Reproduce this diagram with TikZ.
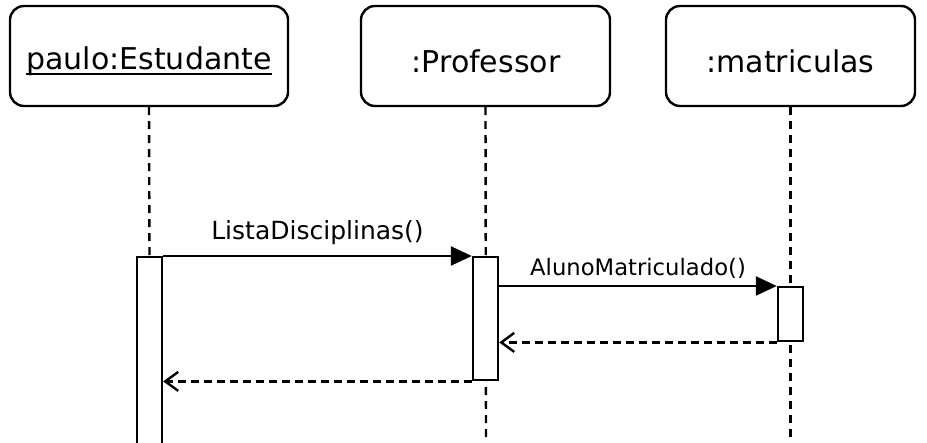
\documentclass[tikz,border=0pt]{standalone}
\usepackage{fontspec}
\setmainfont{DejaVu Sans}
\usetikzlibrary{arrows.meta}
\begin{document}
\begin{tikzpicture}[x=1pt,y=-1pt,
  obj/.style={draw, line width=2.4pt, rounded corners=14pt, minimum width=278pt, minimum height=100pt, inner sep=0pt, fill=white},
  objtext/.style={inner sep=0pt, font=\fontsize{30}{34}\selectfont},
  act/.style={draw, line width=2.4pt, fill=white, minimum width=25pt, inner sep=0pt},
  life/.style={line width=2.4pt, dash pattern=on 8pt off 6pt},
  msg/.style={line width=2.4pt, -{Triangle[length=21pt,width=19pt]}},
  ret/.style={line width=2.4pt, dash pattern=on 8pt off 5pt, -{Straight Barb[length=13pt,width=19pt,line width=2.4pt]}},
  lbl/.style={inner sep=0pt}
]
\useasboundingbox (0,0) rectangle (927,443);
\node[obj] (e) at (149,56) {};
\node[objtext] (et) at (149,61) {paulo:Estudante};
\draw[line width=2pt] ([yshift=-5pt]et.base west) -- ([yshift=-5pt]et.base east);
\node[obj, minimum width=249pt] (p) at (485.5,56) {};
\node[objtext] (pt) at (486,61) {:Professor};
\node[obj, minimum width=249pt] (m) at (790.5,56) {};
\node[objtext] (mt) at (790.5,61) {:matriculas};
\coordinate (pb) at (486,443);
\coordinate (mb) at (790.5,443);
\coordinate (ea) at (149.5,256);
\draw[life] (e.south) -- (ea);
\draw[life] (p.south) -- (pb);
\draw[life] (m.south) -- (mb);
\node[act, minimum height=210pt, anchor=north] (ae) at (149.5,256) {};
\node[act, minimum height=123pt, anchor=north] (ap) at (485.5,256) {};
\node[act, minimum height=54pt, anchor=north] (am) at (790.5,286) {};
\draw[msg] (ae.north east) -- (ap.north west) node[lbl, font=\fontsize{25}{29}\selectfont, midway, above=10pt] {ListaDisciplinas()};
\draw[msg] (ap.east |- am.north) -- (am.north west) node[lbl, font=\fontsize{22.7}{26}\selectfont, midway, above=6pt] {AlunoMatriculado()};
\draw[ret] (am.south west) -- (ap.east |- am.south);
\draw[ret] (ap.south west) -- (ae.east |- ap.south);
\end{tikzpicture}
\end{document}
